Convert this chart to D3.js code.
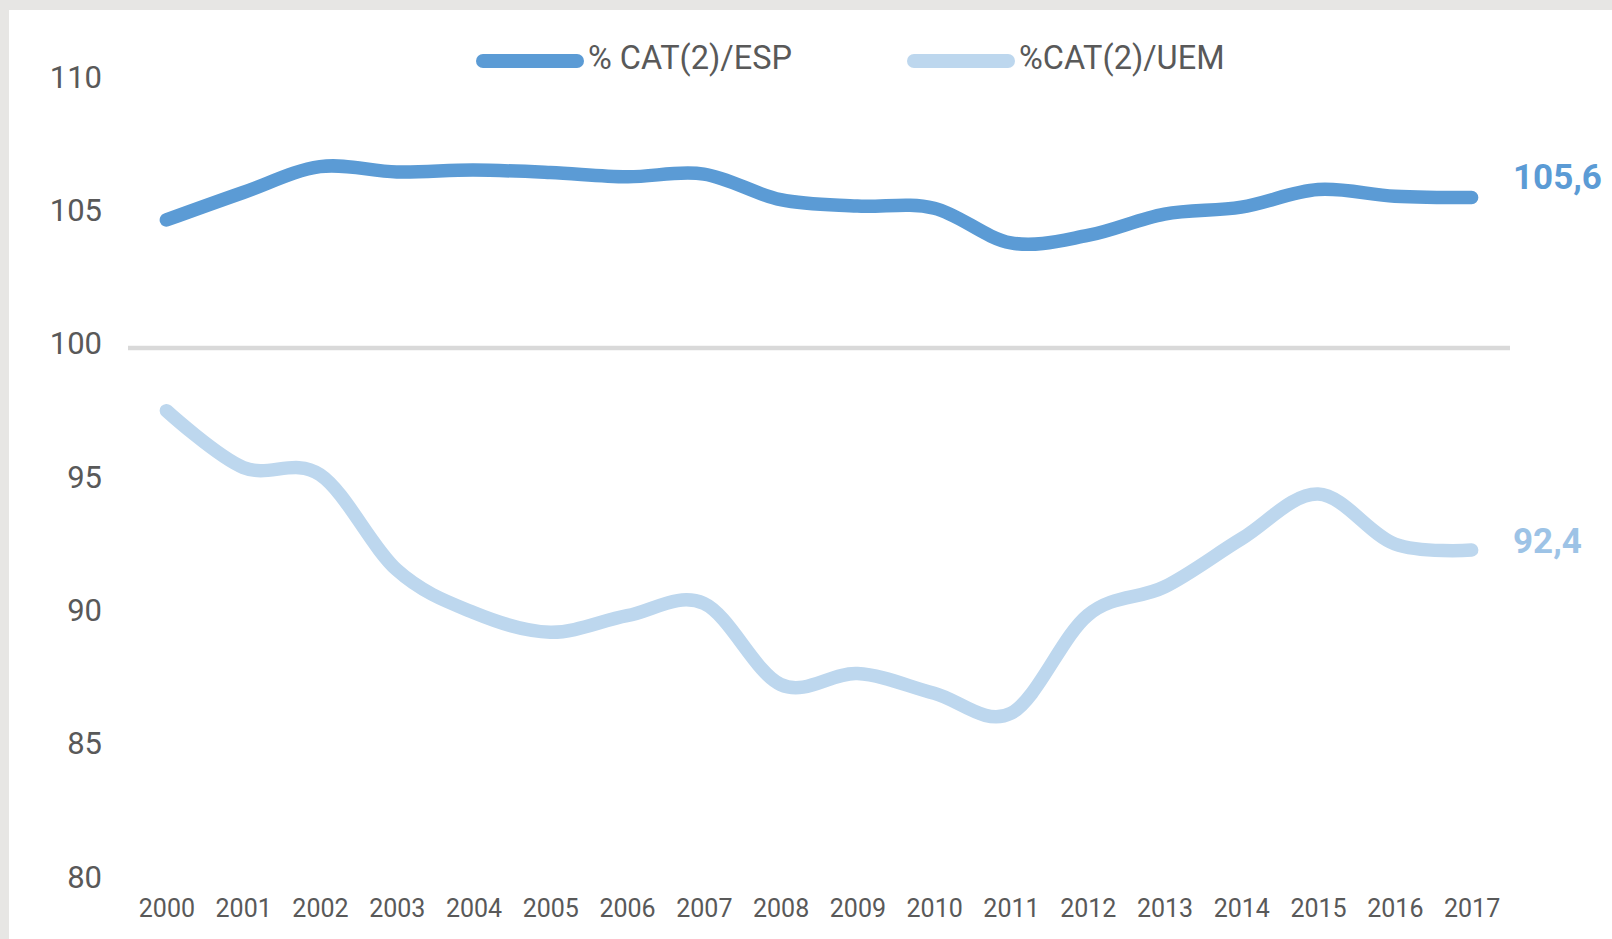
<html>
<head>
<meta charset="utf-8">
<style>
  body { margin: 0; background: #e7e6e4; }
  svg { display: block; }
  text { font-family: Roboto, "Noto Sans", sans-serif; fill: #595959; }
</style>
</head>
<body>
<div id="chart"></div>
<script src="https://cdnjs.cloudflare.com/ajax/libs/d3/7.8.5/d3.min.js"></script>
<script>
// years on the x axis
var years = ["2000","2001","2002","2003","2004","2005","2006","2007","2008",
             "2009","2010","2011","2012","2013","2014","2015","2016","2017"];

// % CAT(2)/ESP
var espValues = [104.80, 105.83, 106.80, 106.60, 106.67, 106.58, 106.42, 106.52, 105.56,
                 105.32, 105.24, 103.94, 104.22, 105.02, 105.28, 105.94, 105.69, 105.64];

// %CAT(2)/UEM
var uemValues = [97.65, 95.52, 95.25, 91.68, 90.08, 89.34, 89.96, 90.42, 87.38,
                 87.79, 87.05, 86.30, 89.98, 91.04, 92.84, 94.52, 92.65, 92.42];

var yTicks = [80, 85, 90, 95, 100, 105, 110];
var seriesNames = ["% CAT(2)/ESP", "%CAT(2)/UEM"];
var endLabels = ["105,6", "92,4"];

(function() {
    var width = 1612;
    var height = 939;

    var svg = d3.select("#chart")
        .append("svg")
        .attr("width", width)
        .attr("height", height);

    // white panel inside the grey frame
    svg.append("rect")
        .attr("x", 9)
        .attr("y", 10)
        .attr("width", width - 9)
        .attr("height", height - 10)
        .attr("fill", "#ffffff");

    var x = d3.scalePoint().domain(years).range([128, 1510]).padding(0.5);
    var y = d3.scaleLinear().domain([80, 110]).range([881.3, 81.3]);

    // only the 100 gridline is drawn
    svg.append("line")
        .attr("x1", 128)
        .attr("x2", 1510)
        .attr("y1", y(100))
        .attr("y2", y(100))
        .attr("stroke", "#d9d9d9")
        .attr("stroke-width", 4.5);

    // y axis
    var yAxis = svg.append("g")
        .attr("transform", "translate(102,0)")
        .call(d3.axisLeft(y).tickValues(yTicks).tickSize(0).tickPadding(0));
    yAxis.select(".domain").remove();
    yAxis.selectAll("text")
        .attr("y", -5)
        .attr("dy", "0.35em")
        .style("font-size", "31px")
        .style("fill", "#595959")
        .style("font-family", null);

    // x axis
    var xAxis = svg.append("g")
        .attr("transform", "translate(0," + y(80) + ")")
        .call(d3.axisBottom(x).tickSize(0).tickPadding(0));
    xAxis.select(".domain").remove();
    xAxis.selectAll("text")
        .attr("y", 27)
        .attr("dy", "0.35em")
        .style("font-size", "25px")
        .style("fill", "#595959")
        .style("font-family", null);

    var line = d3.line()
        .x(function(d, i) { return x(years[i]); })
        .y(function(d) { return y(d); })
        .curve(d3.curveCardinal);

    var colors = ["#5b9bd5", "#bdd7ee"];
    var labelColors = ["#5b9bd5", "#9dc3e6"];
    var labelShift = [-21, -9];
    var series = [espValues, uemValues];

    series.forEach(function(vals, k) {
        svg.append("path")
            .datum(vals)
            .attr("d", line)
            .attr("fill", "none")
            .attr("stroke", colors[k])
            .attr("stroke-width", 13.5)
            .attr("stroke-linecap", "round")
            .attr("stroke-linejoin", "round");

        // value label at the end of each line
        svg.append("text")
            .attr("x", 1513)
            .attr("y", y(vals[vals.length - 1]) + labelShift[k])
            .attr("dy", "0.35em")
            .text(endLabels[k])
            .style("font-size", "35px")
            .style("font-weight", "bold")
            .style("fill", labelColors[k]);
    });

    // legend
    var legendX = [483, 914];
    seriesNames.forEach(function(name, k) {
        svg.append("line")
            .attr("x1", legendX[k])
            .attr("x2", legendX[k] + 94)
            .attr("y1", 61)
            .attr("y2", 61)
            .attr("stroke", colors[k])
            .attr("stroke-width", 14)
            .attr("stroke-linecap", "round");
        svg.append("text")
            .attr("x", legendX[k] + 105)
            .attr("y", 58)
            .attr("dy", "0.35em")
            .text(name)
            .style("font-size", "32.5px");
    });
})();
</script>
</body>
</html>
